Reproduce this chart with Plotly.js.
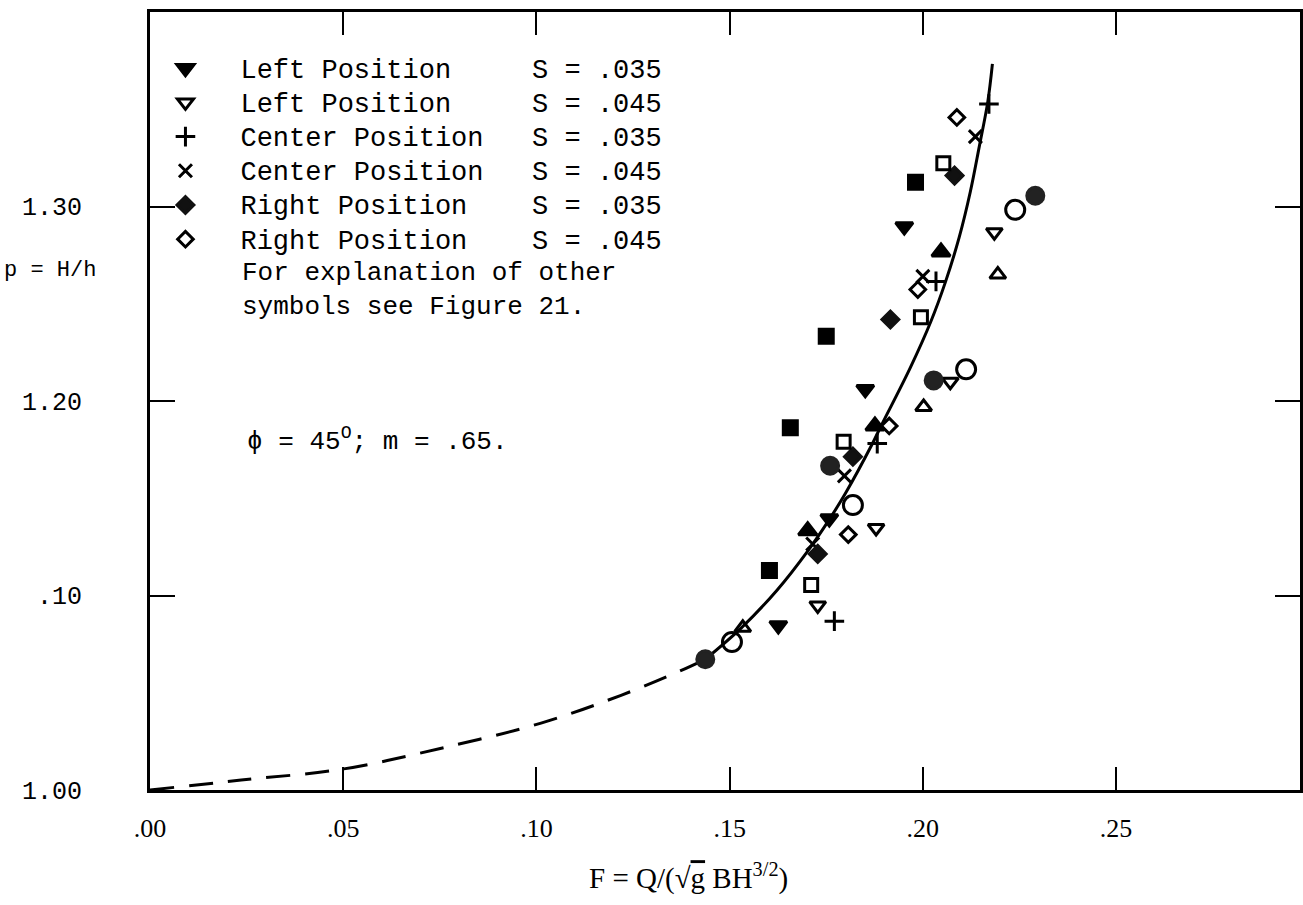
<!DOCTYPE html>
<html>
<head>
<meta charset="utf-8">
<script src="https://cdn.plot.ly/plotly-3.0.1.min.js"></script>
<style>html,body{margin:0;padding:0;background:#fff;}#chart{width:1303px;height:905px;}</style>
</head>
<body>
<div id="chart"></div>
<script>
// ---- tick labels ----
const xTickVals = [0, 0.05, 0.10, 0.15, 0.20, 0.25];
const xTickText = ['.00', '.05', '.10', '.15', '.20', '.25'];
const yTickVals = [1.00, 1.10, 1.20, 1.30];
const yTickText = ['1.00', '.10', '1.20', '1.30'];

// ---- series (F, p) ----
const leftS035X = [0.1952, 0.1851, 0.1758, 0.1626];
const leftS035Y = [1.2897, 1.2060, 1.1396, 1.0846];
const leftS045X = [0.2185, 0.2071, 0.1879, 0.1728];
const leftS045Y = [1.2868, 1.2099, 1.1347, 1.0949];
const centerS035X = [0.2171, 0.2034, 0.1882, 0.1771];
const centerS035Y = [1.3527, 1.2615, 1.1781, 1.0868];
const centerS045X = [0.2136, 0.2000, 0.1797, 0.1715];
const centerS045Y = [1.3359, 1.2641, 1.1615, 1.1265];
const rightS035X = [0.2082, 0.1916, 0.1819, 0.1728];
const rightS035Y = [1.3159, 1.2419, 1.1714, 1.1214];
const rightS045X = [0.2088, 0.1987, 0.1913, 0.1807];
const rightS045Y = [1.3458, 1.2573, 1.1872, 1.1313];
// other symbols (see Figure 21)
const fSquareX = [0.1981, 0.1750, 0.1657, 0.1603];
const fSquareY = [1.3125, 1.2333, 1.1863, 1.1128];
const oSquareX = [0.2053, 0.1995, 0.1795, 0.1711];
const oSquareY = [1.3222, 1.2431, 1.1791, 1.1054];
const fCircleX = [0.2291, 0.2028, 0.1760, 0.1437];
const fCircleY = [1.3055, 1.2106, 1.1667, 1.0672];
const oCircleX = [0.2239, 0.2112, 0.1819, 0.1506];
const oCircleY = [1.2983, 1.2163, 1.1465, 1.0761];
const fTriUpX = [0.2047, 0.1876, 0.1702];
const fTriUpY = [1.2766, 1.1872, 1.1333];
const oTriUpX = [0.2194, 0.2002, 0.1534];
const oTriUpY = [1.2650, 1.1969, 1.0834];

// ---- curve ----
const dashedX = [0.0, 0.0236, 0.0500, 0.0754, 0.1012, 0.1219, 0.1375, 0.1437];
const dashedY = [1.0, 1.0051, 1.0108, 1.0215, 1.0344, 1.0487, 1.0615, 1.0672];
const solidX = [0.1437, 0.1529, 0.1622, 0.1703, 0.1756, 0.1799, 0.1869, 0.1892, 0.1967, 0.2021, 0.2059, 0.2094, 0.2123, 0.2146, 0.2168, 0.2180];
const solidY = [1.0672, 1.0831, 1.1026, 1.1231, 1.1385, 1.1523, 1.1779, 1.1872, 1.2169, 1.2410, 1.2615, 1.2841, 1.3077, 1.3308, 1.3538, 1.3733];

const legendNames = [
  'Left Position\u00a0\u00a0\u00a0\u00a0\u00a0S = .035',
  'Left Position\u00a0\u00a0\u00a0\u00a0\u00a0S = .045',
  'Center Position\u00a0\u00a0\u00a0S = .035',
  'Center Position\u00a0\u00a0\u00a0S = .045',
  'Right Position\u00a0\u00a0\u00a0\u00a0S = .035',
  'Right Position\u00a0\u00a0\u00a0\u00a0S = .045'
];
const wide = s => '<span style="font-size:27px">' + s + '</span>';

function pts(x, y, name, symbol, size, color, showlegend) {
  return {
    type: 'scatter', mode: 'markers', x: x, y: y, name: name,
    showlegend: showlegend, hoverinfo: 'skip',
    marker: {symbol: symbol, size: size, color: color, line: {width: 3, color: color}}
  };
}

const data = [
  {type: 'scatter', mode: 'lines', x: dashedX, y: dashedY, showlegend: false, hoverinfo: 'skip',
   line: {color: '#000', width: 3, dash: '24px,15px', shape: 'spline'}},
  {type: 'scatter', mode: 'lines', x: solidX, y: solidY, showlegend: false, hoverinfo: 'skip',
   line: {color: '#000', width: 3, shape: 'spline'}},
  pts(leftS035X, leftS035Y, wide(legendNames[0]), 'triangle-down', 15, '#000', true),
  pts(leftS045X, leftS045Y, wide(legendNames[1]), 'triangle-down-open', 14, '#000', true),
  pts(centerS035X, centerS035Y, wide(legendNames[2]), 'cross-thin-open', 14, '#000', true),
  pts(centerS045X, centerS045Y, wide(legendNames[3]), 'x-thin-open', 13, '#000', true),
  pts(rightS035X, rightS035Y, wide(legendNames[4]), 'diamond', 13, '#111', true),
  pts(rightS045X, rightS045Y, wide(legendNames[5]), 'diamond-open', 12, '#000', true),
  pts(fSquareX, fSquareY, 'filled square', 'square', 14, '#000', false),
  pts(oSquareX, oSquareY, 'open square', 'square-open', 13, '#000', false),
  pts(fCircleX, fCircleY, 'filled circle', 'circle', 17, '#222', false),
  pts(oCircleX, oCircleY, 'open circle', 'circle-open', 19, '#000', false),
  pts(fTriUpX, fTriUpY, 'filled triangle', 'triangle-up', 16, '#000', false),
  pts(oTriUpX, oTriUpY, 'open triangle', 'triangle-up-open', 14, '#000', false)
];

const mono = 'Liberation Mono, Courier New, monospace';
const serif = 'Liberation Serif, Times New Roman, serif';

const layout = {
  width: 1303, height: 905,
  margin: {l: 150, r: 3, t: 12, b: 115},
  paper_bgcolor: '#fff', plot_bgcolor: '#fff',
  showlegend: true,
  legend: {
    x: -0.017, y: 0.9562, xanchor: 'left', yanchor: 'top',
    bgcolor: 'rgba(0,0,0,0)', borderwidth: 0,
    font: {family: mono, size: 24, color: '#000'},
    itemwidth: 100, itemclick: false, itemdoubleclick: false,
    tracegroupgap: 0
  },
  xaxis: {
    range: [0, 0.2976], tickmode: 'array', tickvals: xTickVals, ticktext: xTickText,
    ticks: 'inside', ticklen: 23, tickwidth: 2, tickcolor: '#000',
    showline: true, linewidth: 3, linecolor: '#000', mirror: 'allticks',
    showgrid: false, zeroline: false, ticklabelstandoff: 13,
    tickfont: {family: serif, size: 26, color: '#000'}
  },
  yaxis: {
    range: [1.0, 1.4], tickmode: 'array', tickvals: yTickVals, ticktext: yTickText,
    ticks: 'inside', ticklen: 25, tickwidth: 2, tickcolor: '#000',
    showline: true, linewidth: 3, linecolor: '#000', mirror: 'allticks',
    showgrid: false, zeroline: false, ticklabelstandoff: 60,
    tickfont: {family: mono, size: 25, color: '#000'}
  },
  annotations: [
    {xref: 'paper', yref: 'paper', x: 0.468, y: -0.111, xanchor: 'center', yanchor: 'middle',
     text: 'F = Q/(\u221A<span style="text-decoration:overline">g</span> BH<sup>3/2</sup>)', showarrow: false,
     font: {family: serif, size: 29, color: '#000'}},
    {xref: 'paper', yref: 'paper', x: -0.087, y: 0.668, xanchor: 'center', yanchor: 'middle',
     text: 'p = H/h', showarrow: false, font: {family: mono, size: 22, color: '#000'}},
    {xref: 'paper', yref: 'paper', x: 0.0783, y: 0.686, xanchor: 'left', yanchor: 'top', align: 'left',
     text: 'For explanation of other<br>symbols see Figure 21.', showarrow: false,
     font: {family: mono, size: 26, color: '#000'}},
    {xref: 'paper', yref: 'paper', x: 0.0826, y: 0.45, xanchor: 'left', yanchor: 'middle',
     text: '\u03D5 = 45<sup>O</sup>; m = .65.', showarrow: false,
     font: {family: mono, size: 26, color: '#000'}}
  ]
};

Plotly.newPlot('chart', data, layout, {staticPlot: true, displayModeBar: false});
</script>
</body>
</html>
